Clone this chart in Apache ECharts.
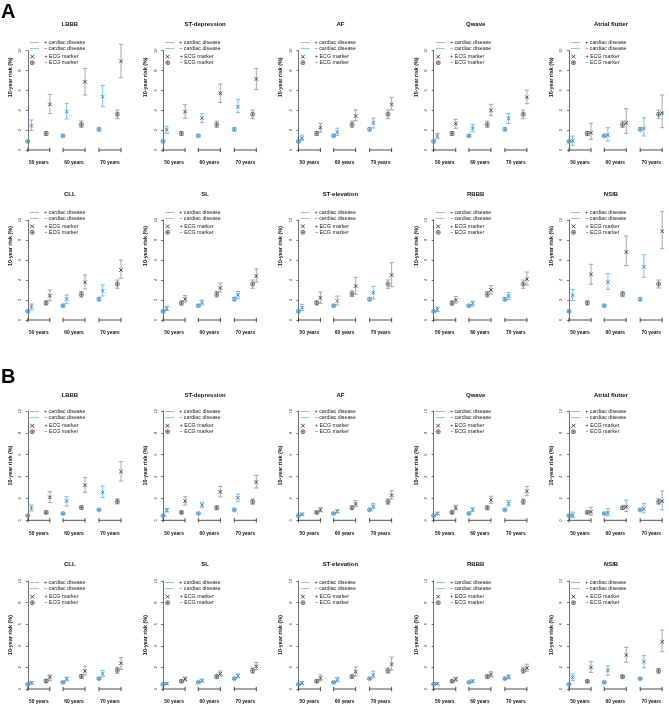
<!DOCTYPE html>
<html><head><meta charset="utf-8">
<script src="https://cdn.jsdelivr.net/npm/echarts@6/dist/echarts.min.js"></script>
<style>html,body{margin:0;padding:0;background:#fff}#c{width:669px;height:706px}</style>
</head><body><div id="c"></div>
<script>
// ---------- DATA ----------
const ageGroups = ['50 years', '60 years', '70 years'];
const panelTitles = ['LBBB', 'ST-depression', 'AF', 'Qwave', 'Atrial flutter', 'CLL', 'SL', 'ST-elevation', 'RBBB', 'NSIB'];
// order inside each age group: [− cardiac/− ECG, − cardiac/+ ECG, + cardiac/− ECG, + cardiac/+ ECG]
// ---- Panel A ----
const lbbbA_est = [0.86, 2.45, 1.67, 4.6, 1.43, 3.86, 2.56, 6.88, 2.08, 5.37, 3.6, 8.93];
const lbbbA_lo  = [0.78, 1.95, 1.45, 3.66, 1.33, 3.12, 2.28, 5.54, 1.93, 4.36, 3.15, 7.28];
const lbbbA_hi  = [0.94, 3.02, 1.85, 5.6, 1.53, 4.7, 2.92, 8.22, 2.23, 6.5, 4.03, 10.64];
const stdepA_est = [0.86, 2.05, 1.67, 3.86, 1.43, 3.22, 2.56, 5.7, 2.08, 4.36, 3.6, 7.15];
const stdepA_lo  = [0.78, 1.68, 1.45, 3.19, 1.33, 2.75, 2.28, 4.8, 1.93, 3.76, 3.15, 6.1];
const stdepA_hi  = [0.94, 2.38, 1.85, 4.56, 1.53, 3.66, 2.9, 6.64, 2.23, 5.07, 4.03, 8.22];
const afA_est = [0.86, 1.2, 1.67, 2.25, 1.43, 1.81, 2.56, 3.42, 2.08, 2.75, 3.6, 4.6];
const afA_lo  = [0.78, 0.94, 1.45, 1.81, 1.33, 1.48, 2.28, 2.95, 1.93, 2.21, 3.15, 4.03];
const afA_hi  = [0.94, 1.5, 1.85, 2.68, 1.53, 2.2, 2.9, 4.03, 2.23, 3.22, 4.03, 5.3];
const qwaveA_est = [0.86, 1.41, 1.67, 2.65, 1.43, 2.2, 2.56, 3.99, 2.08, 3.19, 3.6, 5.3];
const qwaveA_lo  = [0.78, 1.14, 1.45, 2.18, 1.33, 1.85, 2.28, 3.46, 1.93, 2.68, 3.15, 4.66];
const qwaveA_hi  = [0.94, 1.68, 1.85, 3.09, 1.53, 2.58, 2.9, 4.6, 2.23, 3.66, 4.03, 6.04];
const aflA_est = [0.86, 0.94, 1.67, 1.74, 1.43, 1.51, 2.56, 2.75, 2.08, 2.18, 3.6, 3.72];
const aflA_lo  = [0.78, 0.47, 1.45, 1.07, 1.33, 0.9, 2.28, 1.68, 1.93, 1.41, 3.15, 2.25];
const aflA_hi  = [0.94, 1.41, 1.85, 2.68, 1.53, 2.25, 2.9, 4.16, 2.23, 3.25, 4.03, 5.54];
const cllA_est = [0.86, 1.33, 1.72, 2.43, 1.43, 2.1, 2.57, 3.77, 2.08, 2.93, 3.6, 5.0];
const cllA_lo  = [0.78, 1.0, 1.5, 1.93, 1.33, 1.67, 2.3, 3.1, 1.93, 2.4, 3.17, 4.17];
const cllA_hi  = [0.94, 1.6, 1.9, 3.0, 1.53, 2.5, 2.85, 4.5, 2.23, 3.5, 4.0, 6.0];
const slA_est = [0.86, 1.15, 1.7, 2.1, 1.43, 1.75, 2.57, 3.2, 2.08, 2.5, 3.6, 4.4];
const slA_lo  = [0.78, 0.95, 1.48, 1.8, 1.33, 1.5, 2.3, 2.8, 1.93, 2.15, 3.17, 3.8];
const slA_hi  = [0.94, 1.38, 1.9, 2.45, 1.53, 2.0, 2.85, 3.7, 2.23, 2.85, 4.0, 5.1];
const stelA_est = [0.86, 1.23, 1.72, 2.23, 1.43, 1.9, 2.62, 3.4, 2.08, 2.73, 3.6, 4.5];
const stelA_lo  = [0.78, 0.93, 1.5, 1.67, 1.33, 1.5, 2.35, 2.57, 1.93, 2.1, 3.17, 3.33];
const stelA_hi  = [0.94, 1.57, 1.9, 2.8, 1.53, 2.4, 2.9, 4.27, 2.23, 3.37, 4.0, 5.73];
const rbbbA_est = [0.86, 1.05, 1.7, 2.0, 1.43, 1.65, 2.57, 3.0, 2.08, 2.4, 3.6, 4.1];
const rbbbA_lo  = [0.78, 0.85, 1.48, 1.7, 1.33, 1.4, 2.3, 2.6, 1.93, 2.05, 3.17, 3.5];
const rbbbA_hi  = [0.94, 1.28, 1.9, 2.35, 1.53, 1.9, 2.85, 3.45, 2.23, 2.75, 4.0, 4.8];
const nsibA_est = [0.86, 2.47, 1.72, 4.57, 1.43, 3.8, 2.6, 6.8, 2.08, 5.33, 3.6, 8.87];
const nsibA_lo  = [0.78, 1.93, 1.5, 3.57, 1.33, 3.07, 2.33, 5.43, 1.93, 4.27, 3.2, 7.13];
const nsibA_hi  = [0.94, 3.07, 1.9, 5.57, 1.53, 4.63, 2.83, 8.4, 2.23, 6.53, 4.0, 10.83];
// ---- Panel B ----
const lbbbB_est = [0.43, 1.12, 0.72, 2.1, 0.62, 1.77, 1.17, 3.2, 0.96, 2.56, 1.72, 4.45];
const lbbbB_lo  = [0.38, 0.85, 0.6, 1.62, 0.56, 1.31, 1.02, 2.56, 0.88, 2.1, 1.5, 3.6];
const lbbbB_hi  = [0.48, 1.4, 0.84, 2.62, 0.68, 2.16, 1.3, 3.93, 1.04, 3.14, 1.95, 5.37];
const stdepB_est = [0.43, 0.9, 0.72, 1.75, 0.62, 1.4, 1.15, 2.6, 0.96, 2.05, 1.7, 3.5];
const stdepB_lo  = [0.38, 0.75, 0.6, 1.4, 0.56, 1.15, 1.0, 2.15, 0.88, 1.7, 1.47, 2.95];
const stdepB_hi  = [0.48, 1.08, 0.84, 2.15, 0.68, 1.65, 1.3, 3.1, 1.04, 2.4, 1.95, 4.1];
const afB_est = [0.43, 0.55, 0.72, 0.95, 0.62, 0.82, 1.15, 1.5, 0.96, 1.28, 1.7, 2.3];
const afB_lo  = [0.38, 0.45, 0.6, 0.78, 0.56, 0.68, 1.0, 1.25, 0.88, 1.05, 1.47, 1.95];
const afB_hi  = [0.48, 0.66, 0.84, 1.15, 0.68, 0.98, 1.3, 1.8, 1.04, 1.55, 1.95, 2.7];
const qwaveB_est = [0.43, 0.62, 0.72, 1.15, 0.62, 0.98, 1.15, 1.85, 0.96, 1.55, 1.7, 2.65];
const qwaveB_lo  = [0.38, 0.52, 0.6, 0.95, 0.56, 0.82, 1.0, 1.55, 0.88, 1.3, 1.47, 2.25];
const qwaveB_hi  = [0.48, 0.74, 0.84, 1.38, 0.68, 1.15, 1.3, 2.2, 1.04, 1.82, 1.95, 3.1];
const aflB_est = [0.43, 0.48, 0.72, 0.78, 0.62, 0.7, 1.15, 1.25, 0.96, 1.05, 1.7, 1.76];
const aflB_lo  = [0.38, 0.25, 0.6, 0.45, 0.56, 0.42, 1.0, 0.8, 0.88, 0.68, 1.47, 0.95];
const aflB_hi  = [0.48, 0.75, 0.84, 1.2, 0.68, 1.05, 1.3, 1.85, 1.04, 1.55, 1.95, 2.68];
const cllB_est = [0.43, 0.56, 0.74, 1.08, 0.62, 0.93, 1.17, 1.67, 0.96, 1.42, 1.73, 2.38];
const cllB_lo  = [0.38, 0.46, 0.6, 0.77, 0.56, 0.75, 1.0, 1.3, 0.88, 1.14, 1.45, 1.82];
const cllB_hi  = [0.48, 0.68, 0.88, 1.3, 0.68, 1.1, 1.33, 2.07, 1.04, 1.7, 1.98, 2.9];
const slB_est = [0.43, 0.5, 0.72, 0.92, 0.62, 0.78, 1.15, 1.42, 0.96, 1.2, 1.7, 2.1];
const slB_lo  = [0.38, 0.42, 0.6, 0.76, 0.56, 0.66, 1.0, 1.2, 0.88, 1.02, 1.47, 1.8];
const slB_hi  = [0.48, 0.6, 0.84, 1.1, 0.68, 0.92, 1.3, 1.68, 1.04, 1.4, 1.95, 2.45];
const stelB_est = [0.43, 0.55, 0.72, 1.0, 0.62, 0.85, 1.15, 1.6, 0.96, 1.3, 1.7, 2.3];
const stelB_lo  = [0.38, 0.43, 0.6, 0.75, 0.56, 0.66, 1.0, 1.2, 0.88, 1.02, 1.47, 1.75];
const stelB_hi  = [0.48, 0.7, 0.84, 1.3, 0.68, 1.08, 1.3, 2.05, 1.04, 1.65, 1.95, 2.95];
const rbbbB_est = [0.43, 0.48, 0.72, 0.9, 0.62, 0.72, 1.15, 1.35, 0.96, 1.12, 1.7, 1.95];
const rbbbB_lo  = [0.38, 0.4, 0.6, 0.72, 0.56, 0.6, 1.0, 1.12, 0.88, 0.95, 1.47, 1.65];
const rbbbB_hi  = [0.48, 0.58, 0.84, 1.08, 0.68, 0.85, 1.3, 1.6, 1.04, 1.3, 1.95, 2.3];
const nsibB_est = [0.43, 1.08, 0.71, 2.0, 0.62, 1.73, 1.14, 3.15, 0.96, 2.53, 1.67, 4.38];
const nsibB_lo  = [0.38, 0.8, 0.6, 1.54, 0.56, 1.27, 1.0, 2.47, 0.88, 1.98, 1.46, 3.46];
const nsibB_hi  = [0.48, 1.39, 0.82, 2.53, 0.68, 2.13, 1.28, 3.86, 1.04, 3.09, 1.9, 5.46];

const yTicks = [0, 2, 4, 6, 8, 10];
const legendNames = ['+ cardiac disease', '− cardiac disease', '+ ECG marker', '− ECG marker'];

// ---------- BUILD ----------
const panels = [
  [lbbbA_est, lbbbA_lo, lbbbA_hi], [stdepA_est, stdepA_lo, stdepA_hi], [afA_est, afA_lo, afA_hi],
  [qwaveA_est, qwaveA_lo, qwaveA_hi], [aflA_est, aflA_lo, aflA_hi],
  [cllA_est, cllA_lo, cllA_hi], [slA_est, slA_lo, slA_hi], [stelA_est, stelA_lo, stelA_hi],
  [rbbbA_est, rbbbA_lo, rbbbA_hi], [nsibA_est, nsibA_lo, nsibA_hi],
  [lbbbB_est, lbbbB_lo, lbbbB_hi], [stdepB_est, stdepB_lo, stdepB_hi], [afB_est, afB_lo, afB_hi],
  [qwaveB_est, qwaveB_lo, qwaveB_hi], [aflB_est, aflB_lo, aflB_hi],
  [cllB_est, cllB_lo, cllB_hi], [slB_est, slB_lo, slB_hi], [stelB_est, stelB_lo, stelB_hi],
  [rbbbB_est, rbbbB_lo, rbbbB_hi], [nsibB_est, nsibB_lo, nsibB_hi]
];

const FONT = '"Liberation Sans", Arial, Helvetica, sans-serif';
const C_GRAY = '#8e9499', C_BLUE = '#5cb3df';
const M_DARK = '#33404d', M_BLUE = '#3d7db0';
const NOFILL = 'rgba(0,0,0,0)';
const groupOffsets = [0, 9.6, 19.4];
const withinOffsets = [0, 1, 5, 6];
const centers = groupOffsets.map(g => g + 3);
const PX = 3.67;
const rowTop = [50.7, 220, 411, 581];
const rowH = [99.3, 100, 109.3, 108];
const rowTitleY = [25, 195, 396, 565];
const rowLegendY = [42.7, 212.3, 411.7, 582.7];
const legendOff = [0, 6, 14, 20];
const rowNameShift = [23, 24, 0, 0];
const X_SYM = 'path://M0,0L10,10M10,0L0,10';
const O_SYM = 'path://M10,5A5,5,0,1,1,0,5A5,5,0,1,1,10,5ZM5,1.5L5,8.5M1.5,5L8.5,5';
const X_ICON = 'path://M0,0L10,10M10,0L0,10M24,5L24,5';
const O_ICON = 'path://M10,5A5,5,0,1,1,0,5A5,5,0,1,1,10,5ZM5,1.5L5,8.5M1.5,5L8.5,5M22,5L22,5';
const LINE_SYM = 'path://M0,0L20,0L20,1.6L0,1.6Z';
const legendIcons = [LINE_SYM, LINE_SYM, X_ICON, O_ICON];
const legendStyles = [
  { color: C_GRAY, borderWidth: 0 },
  { color: C_BLUE, borderWidth: 0 },
  { color: NOFILL, borderColor: '#222', borderWidth: 0.8 },
  { color: NOFILL, borderColor: '#222', borderWidth: 0.6 }
];

function errRender(color) {
  return function (params, api) {
    const x = api.value(0), lo = api.value(1), hi = api.value(2);
    const a = api.coord([x, hi]), b = api.coord([x, lo]);
    const w = 2.2;
    const st = { stroke: color, lineWidth: 0.8, fill: null };
    return { type: 'group', children: [
      { type: 'line', shape: { x1: a[0], y1: a[1], x2: b[0], y2: b[1] }, style: st },
      { type: 'line', shape: { x1: a[0] - w, y1: a[1], x2: a[0] + w, y2: a[1] }, style: st },
      { type: 'line', shape: { x1: b[0] - w, y1: b[1], x2: b[0] + w, y2: b[1] }, style: st }
    ] };
  };
}
function bracketRender(params, api) {
  const a = api.coord([api.value(0), api.value(2)]);
  const b = api.coord([api.value(1), api.value(2)]);
  const h = 2.2;
  const st = { stroke: '#222', lineWidth: 0.8, fill: null };
  return { type: 'group', children: [
    { type: 'line', shape: { x1: a[0], y1: a[1], x2: b[0], y2: b[1] }, style: st },
    { type: 'line', shape: { x1: a[0], y1: a[1] - h, x2: a[0], y2: a[1] + h }, style: st },
    { type: 'line', shape: { x1: b[0], y1: b[1] - h, x2: b[0], y2: b[1] + h }, style: st }
  ] };
}

const grids = [], xAxes = [], yAxes = [], series = [], legends = [], titles = [];
titles.push({ text: 'A', left: 1, top: 2, padding: 0, textStyle: { fontSize: 20, fontWeight: 'bold', fontFamily: FONT, color: '#000' } });
titles.push({ text: 'B', left: 1, top: 367, padding: 0, textStyle: { fontSize: 20, fontWeight: 'bold', fontFamily: FONT, color: '#000' } });

panels.forEach((p, k) => {
  const [est, lo, hi] = p;
  const r = Math.floor(k / 5), c = k % 5;
  const x0 = 27.8 + 135.3 * c;
  grids.push({ left: x0 - PX, top: rowTop[r], width: 27.4 * PX, height: rowH[r], outerBoundsMode: 'none', containLabel: false });
  xAxes.push({
    gridIndex: k, type: 'value', min: -1, max: 26.4,
    axisLine: { show: false }, axisTick: { show: false }, splitLine: { show: false },
    axisLabel: {
      show: true, customValues: centers, margin: 10.5,
      formatter: v => { let bi = 0; centers.forEach((cv, i) => { if (Math.abs(cv - v) < Math.abs(centers[bi] - v)) bi = i; }); return ageGroups[bi]; },
      fontSize: 4.9, fontWeight: 'bold', color: '#111', fontFamily: FONT
    }
  });
  const shift = rowNameShift[r];
  yAxes.push({
    gridIndex: k, type: 'value', min: 0, max: 10, interval: 2,
    name: '10-year risk (%)', nameLocation: 'middle', nameGap: 11.5, nameMoveOverlap: false,
    nameTextStyle: { fontSize: 5.4, fontWeight: 'bold', fontFamily: FONT, color: '#111', padding: [0, 0, 0, 2 * shift] },
    axisLine: { show: true, lineStyle: { color: '#333', width: 0.7 } },
    axisTick: { show: true, length: 2, lineStyle: { color: '#333', width: 0.7 } },
    axisLabel: { rotate: 90, fontSize: 4, margin: 2, color: '#333', fontFamily: FONT,
      formatter: v => yTicks.includes(v) ? String(v) : '' },
    splitLine: { show: false }
  });
  titles.push({ text: panelTitles[k % 10], left: x0 + 42, top: rowTitleY[r] - 3.6, textAlign: 'center', padding: 0,
    textStyle: { fontSize: 6, fontWeight: 'bold', fontFamily: FONT, color: '#111' } });

  const errBlue = [], errGray = [], ptX = [], ptO = [];
  for (let g = 0; g < 3; g++) {
    for (let j = 0; j < 4; j++) {
      const i = g * 4 + j;
      const x = groupOffsets[g] + withinOffsets[j];
      const cardiac = j >= 2;
      (cardiac ? errGray : errBlue).push([x, lo[i], hi[i]]);
      const item = { value: [x, est[i]], itemStyle: { color: NOFILL, borderColor: cardiac ? M_DARK : M_BLUE } };
      (j % 2 === 1 ? ptX : ptO).push(item);
    }
  }
  series.push({ type: 'custom', name: legendNames[1], xAxisIndex: k, yAxisIndex: k, renderItem: errRender(C_BLUE),
    encode: { x: 0, y: [1, 2] }, data: errBlue, itemStyle: { color: C_BLUE }, z: 2, silent: true });
  series.push({ type: 'custom', name: legendNames[0], xAxisIndex: k, yAxisIndex: k, renderItem: errRender(C_GRAY),
    encode: { x: 0, y: [1, 2] }, data: errGray, itemStyle: { color: C_GRAY }, z: 2, silent: true });
  series.push({ type: 'scatter', name: legendNames[2], xAxisIndex: k, yAxisIndex: k, symbol: X_SYM, symbolSize: 3.6,
    itemStyle: { color: NOFILL, borderColor: M_DARK, borderWidth: 0.9, opacity: 1 }, data: ptX, z: 3, silent: true });
  series.push({ type: 'scatter', name: legendNames[3], xAxisIndex: k, yAxisIndex: k, symbol: O_SYM, symbolSize: 4.2,
    itemStyle: { color: NOFILL, borderColor: M_DARK, borderWidth: 0.6, opacity: 1 }, data: ptO, z: 3, silent: true });
  series.push({ type: 'custom', name: 'age groups', xAxisIndex: k, yAxisIndex: k, renderItem: bracketRender,
    encode: { x: [0, 1], y: 2 }, data: groupOffsets.map(g => [g + withinOffsets[0], g + withinOffsets[3], 0]), z: 1, silent: true });

  legendNames.forEach((nm, m) => {
    legends.push({
      left: x0 + 2.2, top: rowLegendY[r] + legendOff[m] - 3, orient: 'vertical', itemWidth: 9, itemHeight: 5, itemGap: 0,
      padding: 0, selectedMode: false,
      textStyle: { fontSize: 5.3, fontFamily: FONT, color: '#222', lineHeight: 6 },
      data: [{ name: nm, icon: legendIcons[m], itemStyle: legendStyles[m] }]
    });
  });
});

const chart = echarts.init(document.getElementById('c'), null, { renderer: 'canvas', width: 669, height: 706 });
chart.setOption({
  animation: false,
  backgroundColor: '#fff',
  title: titles, grid: grids, xAxis: xAxes, yAxis: yAxes, legend: legends, series: series
});
</script></body></html>
